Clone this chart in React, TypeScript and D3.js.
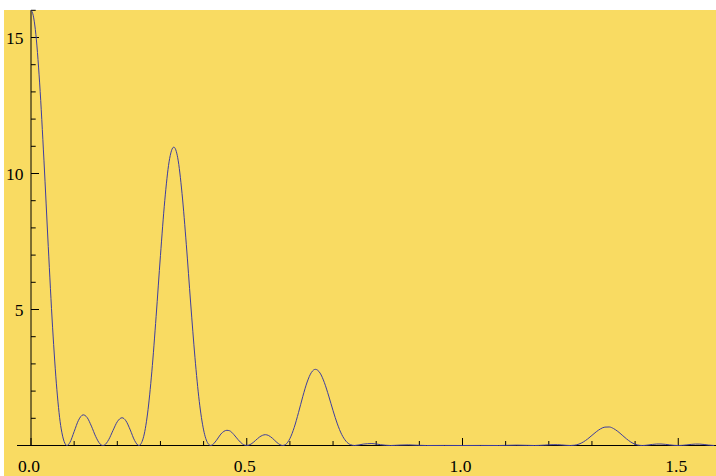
import React from "react";
import * as d3 from "d3";

// Curve samples (x, intensity)
const sampleX = [
  0, 0.005, 0.01, 0.02, 0.03, 0.04, 0.05, 0.06, 0.07, 0.0833,
  0.09, 0.1, 0.11, 0.121, 0.13, 0.14, 0.15, 0.16, 0.1667,
  0.17, 0.18, 0.19, 0.2, 0.211, 0.22, 0.23, 0.24, 0.25,
  0.26, 0.27, 0.28, 0.29, 0.3, 0.31, 0.32, 0.331, 0.34, 0.35, 0.36, 0.37, 0.38, 0.39, 0.4, 0.41, 0.4167,
  0.43, 0.44, 0.454, 0.46, 0.47, 0.48, 0.49, 0.5,
  0.51, 0.52, 0.53, 0.543, 0.55, 0.56, 0.57, 0.5833,
  0.59, 0.6, 0.61, 0.62, 0.63, 0.64, 0.65, 0.659, 0.67, 0.68, 0.69, 0.7, 0.71, 0.72, 0.73, 0.74, 0.75,
  0.77, 0.79, 0.81, 0.8333, 0.855, 0.875, 0.895, 0.9167, 0.958, 1.0, 1.042, 1.0833,
  1.1, 1.125, 1.15, 1.1667, 1.19, 1.2, 1.21, 1.22, 1.23, 1.24, 1.25,
  1.26, 1.27, 1.28, 1.29, 1.3, 1.31, 1.32, 1.33, 1.34, 1.35, 1.36, 1.37, 1.38, 1.39, 1.4, 1.41, 1.4167,
  1.43, 1.44, 1.45, 1.46, 1.47, 1.48, 1.49, 1.5,
  1.51, 1.52, 1.53, 1.54, 1.55, 1.56, 1.57, 1.5833,
];
const sampleY = [
  16.0, 15.82, 15.3, 13.33, 10.49, 7.32, 4.35, 2.05, 0.61, 0,
  0.107, 0.511, 0.925, 1.127, 1.03, 0.712, 0.329, 0.057, 0,
  0.014, 0.212, 0.553, 0.875, 1.02, 0.907, 0.574, 0.188, 0,
  0.266, 1.159, 2.707, 4.751, 6.98, 9.0, 10.43, 10.97, 10.58, 9.27, 7.38, 5.24, 3.23, 1.62, 0.573, 0.079, 0,
  0.194, 0.421, 0.558, 0.543, 0.404, 0.213, 0.058, 0,
  0.053, 0.181, 0.317, 0.397, 0.372, 0.26, 0.11, 0,
  0.038, 0.255, 0.663, 1.213, 1.809, 2.335, 2.689, 2.8, 2.662, 2.309, 1.817, 1.282, 0.793, 0.409, 0.159, 0.033, 0,
  0.051, 0.072, 0.03, 0, 0.015, 0.023, 0.0095, 0, 0.002, 0, 0.002, 0,
  0.0042, 0.0137, 0.0056, 0, 0.0141, 0.0243, 0.0304, 0.0295, 0.02, 0.0071, 0,
  0.0113, 0.0524, 0.1295, 0.24, 0.372, 0.504, 0.613, 0.676, 0.681, 0.623, 0.517, 0.382, 0.245, 0.128, 0.047, 0.0067, 0,
  0.0175, 0.0395, 0.054, 0.0547, 0.042, 0.023, 0.0064, 0,
  0.0064, 0.0226, 0.041, 0.0525, 0.0513, 0.037, 0.0164, 0,
];

const xMajorTicks = [0, 0.5, 1.0, 1.5];
const xTickLabels = ["0.0", "0.5", "1.0", "1.5"];
const xMinorTicks = [0.1, 0.2, 0.3, 0.4, 0.6, 0.7, 0.8, 0.9, 1.1, 1.2, 1.3, 1.4];
const yMajorTicks = [5, 10, 15];
const yTickLabels = ["5", "10", "15"];
const yMinorTicks = [1, 2, 3, 4, 6, 7, 8, 9, 11, 12, 13, 14, 16];
const xAxisExtent = [-0.0324, 1.62];
const yDomain = [0, 16];

export default function App() {
  const W = 716;
  const H = 476;
  const x = d3.scaleLinear().domain([0, 1.5]).range([31, 678.25]);
  const y = d3.scaleLinear().domain(yDomain).range([445.5, 10.3]);

  const pts: [number, number][] = sampleX.map((v, i) => [v, sampleY[i]]);
  const line = d3
    .line<[number, number]>()
    .x((d) => x(d[0]))
    .y((d) => y(d[1]))
    .curve(d3.curveMonotoneX);

  const font = "'Liberation Serif', 'Times New Roman', Times, serif";
  const axisColor = "#000";

  return (
    <svg
      width={W}
      height={H}
      style={{ position: "absolute", left: 0, top: 0, display: "block" }}
    >
      <rect x={0} y={0} width={W} height={H} fill="#ffffff" />
      <rect x={4} y={10} width={W - 4} height={H - 10} fill="#F9DB62" />
      <defs>
        <clipPath id="plotclip">
          <rect x={4} y={y(yDomain[1])} width={W} height={y(0) - y(yDomain[1]) + 2} />
        </clipPath>
      </defs>
      {/* axes */}
      <line
        x1={x(xAxisExtent[0])}
        x2={x(xAxisExtent[1])}
        y1={y(0)}
        y2={y(0)}
        stroke={axisColor}
        strokeWidth={1}
      />
      <line
        x1={x(0)}
        x2={x(0)}
        y1={y(0)}
        y2={y(yDomain[1])}
        stroke={axisColor}
        strokeWidth={1}
      />
      {xMajorTicks.map((t, i) => (
        <g key={"xM" + i}>
          <line x1={x(t)} x2={x(t)} y1={y(0)} y2={y(0) - 7.5} stroke={axisColor} strokeWidth={1} />
          <text
            x={x(t) - 2}
            y={471.5}
            textAnchor="middle"
            fontFamily={font}
            fontSize={17.5}
            fill="#000"
          >
            {xTickLabels[i]}
          </text>
        </g>
      ))}
      {xMinorTicks.map((t, i) => (
        <line key={"xm" + i} x1={x(t)} x2={x(t)} y1={y(0)} y2={y(0) - 4.5} stroke={axisColor} strokeWidth={1} />
      ))}
      {yMajorTicks.map((t, i) => (
        <g key={"yM" + i}>
          <line x1={x(0)} x2={x(0) + 8} y1={y(t)} y2={y(t)} stroke={axisColor} strokeWidth={1} />
          <text
            x={23.5}
            y={y(t) + 6.9}
            textAnchor="end"
            fontFamily={font}
            fontSize={17.5}
            fill="#000"
          >
            {yTickLabels[i]}
          </text>
        </g>
      ))}
      {yMinorTicks.map((t, i) => (
        <line key={"ym" + i} x1={x(0)} x2={x(0) + 4.7} y1={y(t)} y2={y(t)} stroke={axisColor} strokeWidth={1} />
      ))}
      <g clipPath="url(#plotclip)">
        <path d={line(pts) || ""} fill="none" stroke="#3d3d9f" strokeWidth={1} />
      </g>
    </svg>
  );
}
